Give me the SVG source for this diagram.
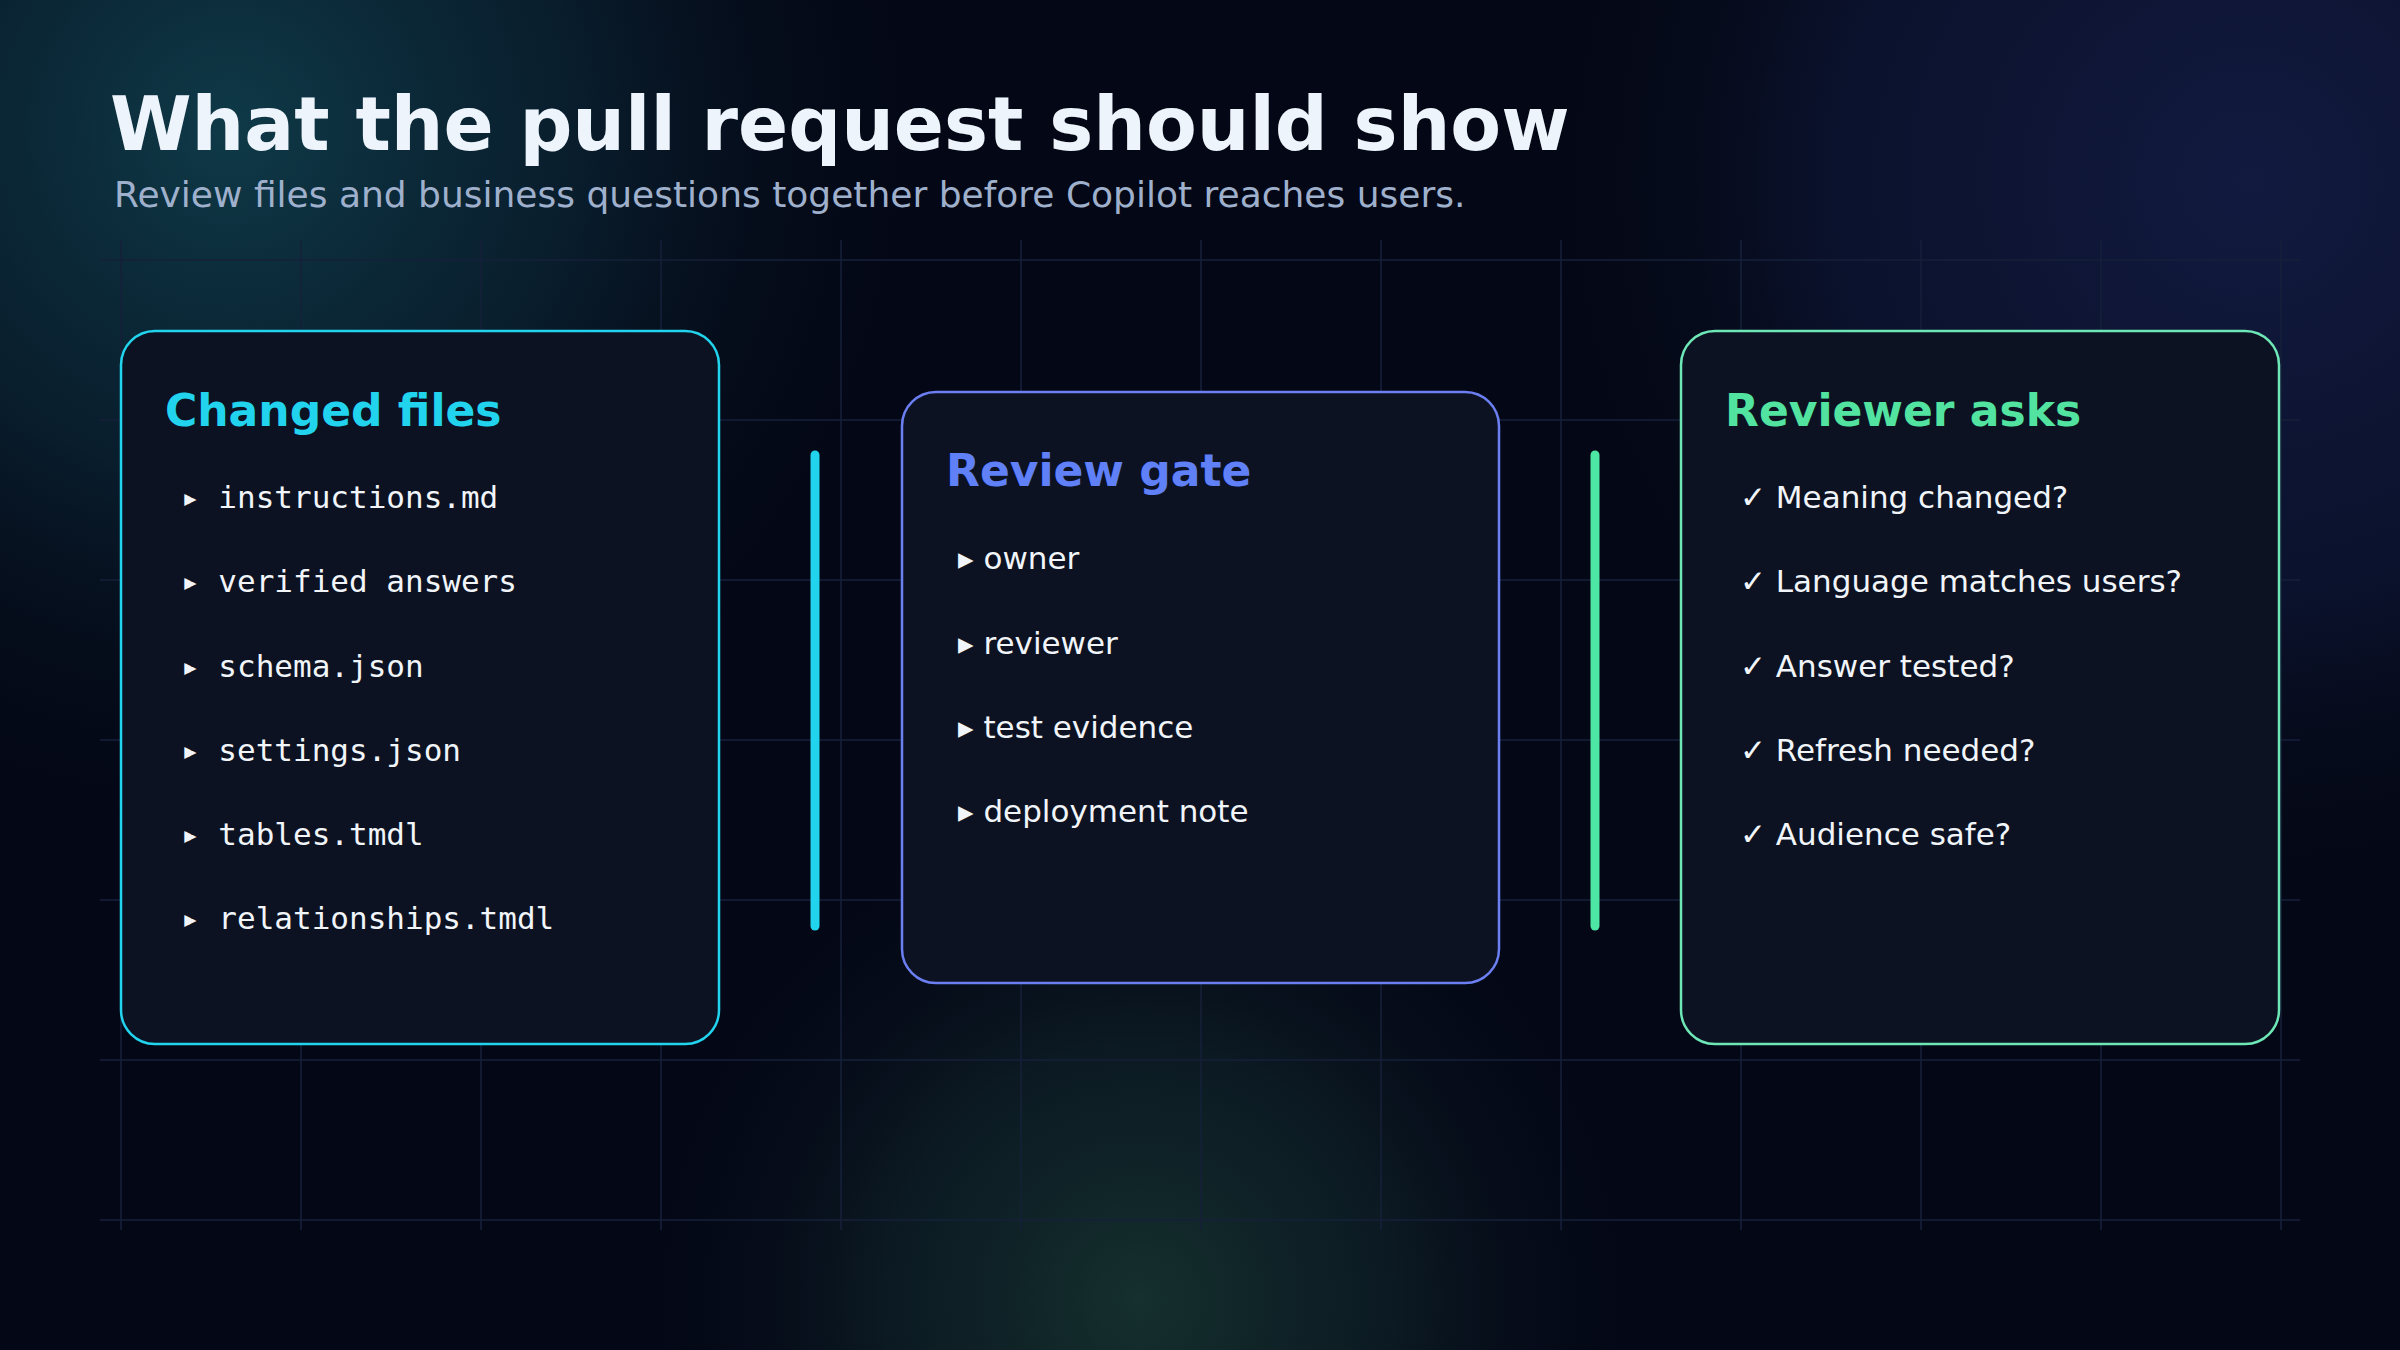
<svg xmlns="http://www.w3.org/2000/svg" width="2400" height="1350" viewBox="0 0 2400 1350">
<defs>
<radialGradient id="g1" cx="230" cy="130" r="700" gradientUnits="userSpaceOnUse"><stop offset="0" stop-color="#0f3a48"/><stop offset="0.5" stop-color="#0b2636" stop-opacity="0.7"/><stop offset="1" stop-color="#050a18" stop-opacity="0"/></radialGradient>
<radialGradient id="g2" cx="2250" cy="180" r="700" gradientUnits="userSpaceOnUse"><stop offset="0" stop-color="#121a40"/><stop offset="0.6" stop-color="#0e1636" stop-opacity="0.7"/><stop offset="1" stop-color="#050a18" stop-opacity="0"/></radialGradient>
<radialGradient id="g3" cx="1140" cy="1300" r="500" gradientUnits="userSpaceOnUse"><stop offset="0" stop-color="#15302e"/><stop offset="0.5" stop-color="#0f2228" stop-opacity="0.7"/><stop offset="1" stop-color="#050a18" stop-opacity="0"/></radialGradient>
<style>
.grid line{stroke:#16203a;stroke-width:1.5}
.card{fill:#0c1222;stroke-width:2.5}
.ttl{font-family:"DejaVu Sans",sans-serif;font-weight:bold;font-size:44px}
.mono{font-family:"DejaVu Sans Mono",monospace;font-size:31px;fill:#f1f5f9}
.sans{font-family:"DejaVu Sans",sans-serif;font-size:31px;fill:#f1f5f9}
</style>
</defs>
<rect width="2400" height="1350" fill="#040816"/>
<rect width="2400" height="1350" fill="url(#g1)"/>
<rect width="2400" height="1350" fill="url(#g2)"/>
<rect width="2400" height="1350" fill="url(#g3)"/>
<g class="grid">
<line x1="121" y1="240" x2="121" y2="1230"/><line x1="301" y1="240" x2="301" y2="1230"/><line x1="481" y1="240" x2="481" y2="1230"/><line x1="661" y1="240" x2="661" y2="1230"/><line x1="841" y1="240" x2="841" y2="1230"/><line x1="1021" y1="240" x2="1021" y2="1230"/><line x1="1201" y1="240" x2="1201" y2="1230"/><line x1="1381" y1="240" x2="1381" y2="1230"/><line x1="1561" y1="240" x2="1561" y2="1230"/><line x1="1741" y1="240" x2="1741" y2="1230"/><line x1="1921" y1="240" x2="1921" y2="1230"/><line x1="2101" y1="240" x2="2101" y2="1230"/><line x1="2281" y1="240" x2="2281" y2="1230"/>
<line x1="100" y1="260" x2="2300" y2="260"/><line x1="100" y1="420" x2="2300" y2="420"/><line x1="100" y1="580" x2="2300" y2="580"/><line x1="100" y1="740" x2="2300" y2="740"/><line x1="100" y1="900" x2="2300" y2="900"/><line x1="100" y1="1060" x2="2300" y2="1060"/><line x1="100" y1="1220" x2="2300" y2="1220"/>
</g>
<text x="110" y="150" font-family="DejaVu Sans,sans-serif" font-weight="bold" font-size="74" fill="#eef4fb">What the pull request should show</text>
<text x="114" y="207" font-family="DejaVu Sans,sans-serif" font-size="36" fill="#9fb0cc">Review files and business questions together before Copilot reaches users.</text>
<g id="connectors">
<line x1="815" y1="455" x2="815" y2="926" stroke="#22d3ee" stroke-width="9" stroke-linecap="round"/>
<line x1="1595" y1="455" x2="1595" y2="926" stroke="#4ee6a4" stroke-width="9" stroke-linecap="round"/>
</g>
<g id="changed-files">
<rect class="card" x="121" y="331" width="598" height="713" rx="34" stroke="#22d3ee"/>
<text class="ttl" x="165" y="426" fill="#22d3ee">Changed files</text>
<text class="mono" x="181" y="508">▸ instructions.md</text>
<text class="mono" x="181" y="592">▸ verified answers</text>
<text class="mono" x="181" y="677">▸ schema.json</text>
<text class="mono" x="181" y="761">▸ settings.json</text>
<text class="mono" x="181" y="845">▸ tables.tmdl</text>
<text class="mono" x="181" y="929">▸ relationships.tmdl</text>
</g>
<g id="review-gate">
<rect class="card" x="902" y="392" width="597" height="591" rx="34" stroke="#6b7ff2"/>
<text class="ttl" x="946" y="486" fill="#5f80f6">Review gate</text>
<text class="sans" x="958" y="569">▸ owner</text>
<text class="sans" x="958" y="654">▸ reviewer</text>
<text class="sans" x="958" y="738">▸ test evidence</text>
<text class="sans" x="958" y="822">▸ deployment note</text>
</g>
<g id="reviewer-asks">
<rect class="card" x="1681" y="331" width="598" height="713" rx="34" stroke="#6ee7b7"/>
<text class="ttl" x="1725" y="426" fill="#52e3a0">Reviewer asks</text>
<text class="sans" x="1740" y="508">✓ Meaning changed?</text>
<text class="sans" x="1740" y="592">✓ Language matches users?</text>
<text class="sans" x="1740" y="677">✓ Answer tested?</text>
<text class="sans" x="1740" y="761">✓ Refresh needed?</text>
<text class="sans" x="1740" y="845">✓ Audience safe?</text>
</g>
</svg>
